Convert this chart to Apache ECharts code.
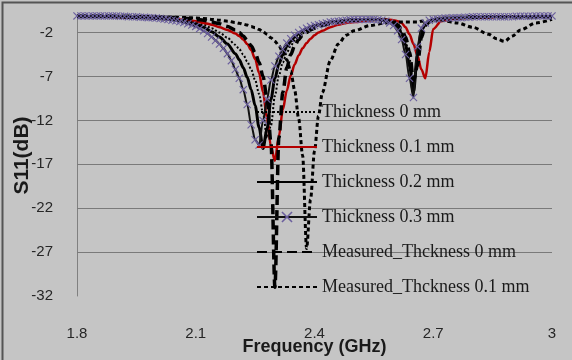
<!DOCTYPE html>
<html>
<head>
<meta charset="utf-8">
<script src="https://cdn.jsdelivr.net/npm/echarts@6/dist/echarts.min.js"></script>
<style>
  html, body { margin: 0; padding: 0; background: #c5c5c5; }
  #chart { width: 572px; height: 360px; }
</style>
</head>
<body>
<div id="chart"></div>
<script>
// frequency grid (GHz)
const freq = [1.80, 1.84, 1.88, 1.92, 1.96, 2.00, 2.04, 2.08, 2.10, 2.12, 2.14, 2.16, 2.18, 2.20,
  2.21, 2.22, 2.23, 2.24, 2.25, 2.26, 2.27, 2.28, 2.29, 2.30, 2.31, 2.32, 2.33, 2.34, 2.35, 2.36,
  2.37, 2.38, 2.39, 2.40, 2.41, 2.42, 2.44, 2.46, 2.48, 2.50, 2.54, 2.58, 2.60, 2.61, 2.62, 2.63,
  2.64, 2.65, 2.66, 2.67, 2.68, 2.69, 2.70, 2.72, 2.76, 2.80, 2.84, 2.86, 2.88, 2.90, 2.92, 2.96, 3.00];

// finer grid used by the 0.3 mm curve (it carries a marker on every sample)
const freqFine = [1.80, 1.81, 1.82, 1.83, 1.84, 1.85, 1.86, 1.87, 1.88, 1.89, 1.90,
  1.91, 1.92, 1.93, 1.94, 1.95, 1.96, 1.97, 1.98, 1.99, 2.00,
  2.01, 2.02, 2.03, 2.04, 2.05, 2.06, 2.07, 2.08, 2.09, 2.10,
  2.11, 2.12, 2.13, 2.14, 2.15, 2.16, 2.17, 2.18, 2.19, 2.20,
  2.21, 2.22, 2.23, 2.24, 2.25, 2.26, 2.27, 2.28, 2.29, 2.30,
  2.31, 2.32, 2.33, 2.34, 2.35, 2.36, 2.37, 2.38, 2.39, 2.40,
  2.41, 2.42, 2.43, 2.44, 2.45, 2.46, 2.47, 2.48, 2.49, 2.50,
  2.51, 2.52, 2.53, 2.54, 2.55, 2.56, 2.57, 2.58, 2.59, 2.60,
  2.61, 2.62, 2.63, 2.64, 2.65, 2.66, 2.67, 2.68, 2.69, 2.70,
  2.71, 2.72, 2.73, 2.74, 2.75, 2.76, 2.77, 2.78, 2.79, 2.80,
  2.81, 2.82, 2.83, 2.84, 2.85, 2.86, 2.87, 2.88, 2.89, 2.90,
  2.91, 2.92, 2.93, 2.94, 2.95, 2.96, 2.97, 2.98, 2.99, 3.00];

// S11 (dB) for each curve
const thick0 = [-0.2, -0.2, -0.2, -0.25, -0.3, -0.35, -0.45, -0.7, -0.85, -1.1, -1.5, -2.0, -2.6, -3.4,
  -3.9, -4.5, -5.3, -6.2, -7.4, -9.0, -11.2, -14.0, -12.6, -9.2, -6.9, -5.4, -4.3, -3.5, -2.9, -2.4,
  -2.1, -1.8, -1.6, -1.4, -1.2, -1.1, -0.9, -0.8, -0.7, -0.6, -0.5, -0.6, -0.9, -1.3, -1.9, -3.0,
  -5.0, -8.0, -5.2, -2.2, -1.1, -0.7, -0.5, -0.4, -0.3, -0.3, -0.2, -0.2, -0.2, -0.2, -0.2, -0.2, -0.2];
const thick01 = [-0.2, -0.2, -0.2, -0.25, -0.3, -0.35, -0.45, -0.6, -0.7, -0.9, -1.1, -1.4, -1.7, -2.1,
  -2.4, -2.8, -3.3, -4.0, -5.0, -6.6, -8.8, -11.8, -15.0, -16.6, -13.8, -10.8, -8.6, -6.9, -5.6, -4.6,
  -3.8, -3.2, -2.7, -2.3, -2.0, -1.8, -1.4, -1.1, -0.9, -0.8, -0.6, -0.5, -0.6, -0.7, -0.9, -1.4,
  -2.2, -3.3, -4.6, -6.2, -7.2, -4.2, -1.6, -0.7, -0.4, -0.3, -0.3, -0.2, -0.2, -0.2, -0.2, -0.2, -0.2];
const thick02 = [-0.2, -0.2, -0.2, -0.25, -0.3, -0.4, -0.5, -0.8, -1.0, -1.4, -1.9, -2.5, -3.3, -4.4,
  -5.1, -6.0, -7.1, -8.5, -10.3, -12.8, -15.2, -13.0, -9.6, -7.2, -5.6, -4.5, -3.6, -3.0, -2.5, -2.1,
  -1.8, -1.6, -1.4, -1.2, -1.1, -1.0, -0.8, -0.7, -0.6, -0.5, -0.5, -0.6, -1.0, -1.4, -2.1, -3.4,
  -5.8, -8.8, -4.6, -1.8, -1.0, -0.7, -0.5, -0.4, -0.3, -0.3, -0.2, -0.2, -0.2, -0.2, -0.2, -0.2, -0.2];
// on freqFine
const thick03 = [-0.1, -0.1, -0.1, -0.1, -0.1, -0.1, -0.1, -0.1, -0.1, -0.1, -0.1,
  -0.15, -0.15, -0.2, -0.2, -0.2, -0.25, -0.25, -0.3, -0.3, -0.35,
  -0.4, -0.45, -0.5, -0.6, -0.65, -0.75, -0.85, -1.0, -1.15, -1.3,
  -1.55, -1.8, -2.1, -2.5, -2.9, -3.3, -3.8, -4.4, -5.2, -6.2,
  -7.2, -8.5, -10.2, -12.5, -14.2, -14.8, -12.0, -9.6, -7.4, -5.8,
  -4.7, -3.9, -3.2, -2.7, -2.3, -2.0, -1.7, -1.5, -1.3, -1.2,
  -1.1, -1.0, -0.9, -0.8, -0.75, -0.7, -0.65, -0.6, -0.55, -0.5,
  -0.5, -0.5, -0.5, -0.5, -0.5, -0.55, -0.6, -0.7, -0.9, -1.2,
  -1.8, -2.8, -4.5, -7.2, -9.4, -3.6, -1.5, -0.9, -0.6, -0.5,
  -0.45, -0.4, -0.35, -0.35, -0.3, -0.3, -0.3, -0.25, -0.25, -0.2,
  -0.2, -0.2, -0.2, -0.2, -0.2, -0.2, -0.2, -0.2, -0.2, -0.2,
  -0.15, -0.15, -0.15, -0.15, -0.15, -0.1, -0.1, -0.1, -0.1, -0.1];
const meas0 = [-0.1, -0.1, -0.15, -0.15, -0.2, -0.25, -0.3, -0.4, -0.5, -0.6, -0.8, -1.0, -1.3, -1.7,
  -2.0, -2.4, -2.9, -3.5, -4.3, -5.4, -7.0, -9.5, -14.5, -31.0, -14.0, -8.8, -6.0, -4.5, -3.5, -2.8,
  -2.3, -2.0, -1.7, -1.5, -1.3, -1.2, -1.0, -0.8, -0.7, -0.6, -0.5, -0.6, -0.8, -1.1, -1.6, -2.5,
  -4.2, -7.5, -5.8, -2.6, -1.2, -0.8, -0.6, -0.4, -0.3, -0.2, -0.2, -0.2, -0.2, -0.2, -0.2, -0.2, -0.2];
const meas01 = [-0.1, -0.1, -0.1, -0.15, -0.15, -0.2, -0.25, -0.3, -0.35, -0.4, -0.5, -0.6, -0.7, -0.85,
  -0.95, -1.05, -1.15, -1.3, -1.45, -1.65, -1.9, -2.2, -2.6, -3.0, -3.5, -4.2, -5.1, -6.4, -8.6, -11.8,
  -16.0, -26.6, -21.0, -15.5, -11.5, -8.8, -5.2, -3.3, -2.3, -1.8, -1.2, -0.9, -0.8, -0.8, -0.8, -0.8,
  -0.8, -0.8, -0.8, -0.7, -0.7, -0.7, -0.6, -0.6, -0.9, -1.4, -2.2, -2.7, -3.0, -2.4, -1.7, -0.9, -0.5];

const seriesNames = ['Thickness 0 mm', 'Thickness 0.1 mm', 'Thickness 0.2 mm', 'Thickness 0.3 mm',
  'Measured_Thckness 0 mm', 'Measured_Thckness 0.1 mm'];
const yGridValues = [-27, -22, -17, -12, -7, -2];

function pairs(xs, vals) {
  return xs.map((f, i) => [f, vals[i]]);
}

const crossPath = 'path://M0,1L1,0L5,4L9,0L10,1L6,5L10,9L9,10L5,6L1,10L0,9L4,5Z';

const chart = echarts.init(document.getElementById('chart'));

const common = { type: 'line', smooth: 0.3, smoothMonotone: 'x', symbol: 'none', z: 3 };

const option = {
  backgroundColor: '#c5c5c5',
  animation: false,
  graphic: [{
    type: 'rect', left: 0, top: 0, z: -1, silent: true,
    shape: { width: 571, height: 359 },
    style: { fill: 'none', stroke: '#555', lineWidth: 2 }
  }],
  grid: { left: 77, right: 20, top: 15, bottom: 64, outerBoundsMode: 'none' },
  legend: {
    orient: 'vertical',
    left: 256, top: 103, padding: 0,
    itemWidth: 60, itemHeight: 14, itemGap: 17,
    // only the 0.3 mm entry keeps its marker
    data: seriesNames.map((n, i) => i === 3 ? { name: n } : { name: n, itemStyle: { opacity: 0 } }),
    textStyle: { fontFamily: 'Liberation Serif', fontSize: 18, color: '#1a1a1a', lineHeight: 18 }
  },
  xAxis: {
    type: 'value', min: 1.8, max: 3, interval: 0.3,
    name: 'Frequency (GHz)', nameLocation: 'middle', nameGap: 42, nameMoveOverlap: false,
    nameTextStyle: { fontFamily: 'Liberation Sans', fontWeight: 'bold', fontSize: 18, color: '#1a1a1a' },
    axisLine: { lineStyle: { color: '#808080', width: 1 } },
    axisTick: { show: false },
    splitLine: { show: false },
    axisLabel: { margin: 30, fontFamily: 'Liberation Sans', fontSize: 15, color: '#262626' }
  },
  yAxis: {
    type: 'value', min: -32, max: 0, interval: 1,
    name: 'S11(dB)', nameLocation: 'middle', nameGap: 44, nameRotate: 90, nameMoveOverlap: false,
    nameTextStyle: { fontFamily: 'Liberation Sans', fontWeight: 'bold', fontSize: 21, color: '#1a1a1a' },
    axisLine: { show: true, lineStyle: { color: '#808080', width: 1 } },
    axisTick: { show: false },
    splitLine: { show: false },
    axisLabel: {
      margin: 24, fontFamily: 'Liberation Sans', fontSize: 15, color: '#262626',
      formatter: v => ((v + 32) % 5 === 0 && v < 0) ? String(v) : ''
    }
  },
  series: [
    {
      // horizontal gridlines
      name: 'grid', type: 'line', data: [], z: 1, silent: true,
      markLine: {
        z: 1, silent: true, symbol: 'none', animation: false,
        label: { show: false },
        lineStyle: { color: '#7a7a7a', width: 1, type: 'solid' },
        data: yGridValues.map(v => ({ yAxis: v }))
      }
    },
    Object.assign({}, common, {
      name: seriesNames[0], data: pairs(freq, thick0),
      lineStyle: { color: '#000', width: 2, type: 'dotted' }, itemStyle: { color: '#000' }
    }),
    Object.assign({}, common, {
      name: seriesNames[1], data: pairs(freq, thick01),
      lineStyle: { color: '#b40000', width: 2.5 }, itemStyle: { color: '#b40000' }
    }),
    Object.assign({}, common, {
      name: seriesNames[2], data: pairs(freq, thick02),
      lineStyle: { color: '#000', width: 3 }, itemStyle: { color: '#000' }
    }),
    Object.assign({}, common, {
      name: seriesNames[3], data: pairs(freqFine, thick03),
      symbol: crossPath, symbolSize: 8, showSymbol: true, showAllSymbol: true,
      lineStyle: { color: '#111', width: 2 }, itemStyle: { color: '#6b5f9e' }
    }),
    Object.assign({}, common, {
      name: seriesNames[4], data: pairs(freq, meas0),
      lineStyle: { color: '#000', width: 3.5, type: [10, 5] }, itemStyle: { color: '#000' }
    }),
    Object.assign({}, common, {
      name: seriesNames[5], data: pairs(freq, meas01),
      lineStyle: { color: '#000', width: 3, type: [4, 3] }, itemStyle: { color: '#000' }
    })
  ]
};

chart.setOption(option);
</script>
</body>
</html>
